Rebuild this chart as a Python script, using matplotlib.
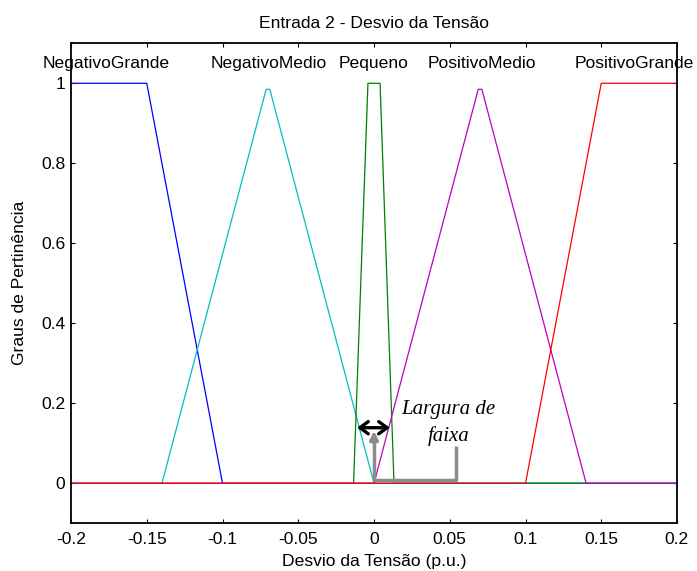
import numpy as np
import matplotlib.pyplot as plt

# funcoes de pertinencia - vertices
ng_x = [-0.2, -0.15, -0.1, 0.2]
ng_y = [1, 1, 0, 0]
nm_x = [-0.2, -0.14, -0.0712, -0.0688, 0.0, 0.2]
nm_y = [0, 0, 0.985, 0.985, 0, 0]
pq_x = [-0.2, -0.0135, -0.004, 0.004, 0.0132, 0.2]
pq_y = [0, 0, 1, 1, 0, 0]
pm_x = [-0.2, 0.0, 0.0688, 0.0712, 0.14, 0.2]
pm_y = [0, 0, 0.985, 0.985, 0, 0]
pg_x = [-0.2, 0.1, 0.15, 0.2]
pg_y = [0, 0, 1, 1]

nomes = ['NegativoGrande', 'NegativoMedio', 'Pequeno', 'PositivoMedio', 'PositivoGrande']
pos_nomes = [-0.1766, -0.0696, 0.0, 0.0711, 0.172]
cores = ['#0000ff', '#00bfbf', '#008000', '#bf00bf', '#ff0000']

xticks = [-0.2, -0.15, -0.1, -0.05, 0, 0.05, 0.1, 0.15, 0.2]
xtick_labels = ['-0.2', '-0.15', '-0.1', '-0.05', '0', '0.05', '0.1', '0.15', '0.2']
yticks = [0, 0.2, 0.4, 0.6, 0.8, 1]
ytick_labels = ['0', '0.2', '0.4', '0.6', '0.8', '1']

plt.rcParams['font.family'] = ['Liberation Sans', 'DejaVu Sans']
fs = 12.6

fig = plt.figure(figsize=(6.97, 5.71), dpi=100)
ax = fig.add_axes([0.1019, 0.0835, 0.8694, 0.8407])

curvas = [(ng_x, ng_y), (nm_x, nm_y), (pq_x, pq_y), (pm_x, pm_y), (pg_x, pg_y)]
for (xs, ys), c in zip(curvas, cores):
    ax.plot(xs, ys, color=c, lw=0.9)

for nome, xp in zip(nomes, pos_nomes):
    ax.text(xp, 1.05, nome, ha='center', va='center', fontsize=fs)

ax.set_xlim(-0.2, 0.2)
ax.set_ylim(-0.1, 1.1)
ax.set_xticks(xticks)
ax.set_xticklabels(xtick_labels)
ax.set_yticks(yticks)
ax.set_yticklabels(ytick_labels)
ax.tick_params(direction='in', length=3, width=0.8, top=True, right=True,
               labelsize=fs)
ax.tick_params(axis='x', pad=6)
ax.tick_params(axis='y', pad=4)
for s in ax.spines.values():
    s.set_linewidth(1.3)

ax.set_title('Entrada 2 - Desvio da Tensão', fontsize=fs, pad=11)
ax.set_xlabel('Desvio da Tensão (p.u.)', fontsize=fs, labelpad=5)
ax.set_ylabel('Graus de Pertinência', fontsize=fs, labelpad=10)

# anotacao largura de faixa
ax.annotate('', xy=(-0.0112, 0.139), xytext=(0.0105, 0.139),
            arrowprops=dict(arrowstyle='<->,head_length=0.55,head_width=0.4',
                            color='black', lw=2.4, mutation_scale=11,
                            shrinkA=0, shrinkB=0))
ax.plot([0.0542, 0.0542, 0.0, 0.0], [0.094, 0.008, 0.008, 0.11],
        color='#8c8c8c', lw=2.5, solid_capstyle='butt')
ax.annotate('', xy=(0.0, 0.131), xytext=(0.0, 0.1),
            arrowprops=dict(arrowstyle='-|>', color='#8c8c8c', lw=2.5,
                            mutation_scale=12, shrinkA=0, shrinkB=0))
ax.text(0.049, 0.184, 'Largura de', ha='center', va='center', fontsize=15,
        style='italic', family='Liberation Serif')
ax.text(0.049, 0.117, 'faixa', ha='center', va='center', fontsize=15,
        style='italic', family='Liberation Serif')

fig.savefig('out.png', dpi=100)
